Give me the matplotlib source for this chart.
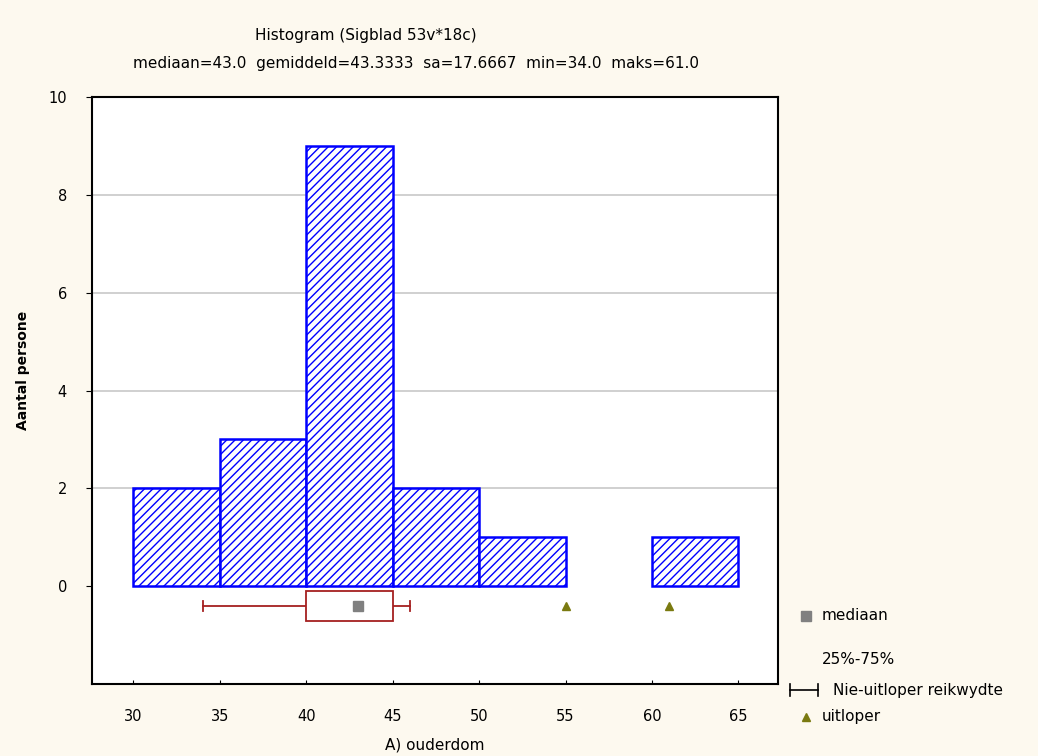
import numpy as np
import matplotlib.pyplot as plt
from matplotlib.lines import Line2D

# histogram bins and counts
bin_edges = [30, 35, 40, 45, 50, 55, 60, 65]
counts = [2, 3, 9, 2, 1, 0, 1]

# box plot summary
q1, q3 = 40.0, 45.0
median = 43.0
whisker_lo, whisker_hi = 34.0, 46.0
outliers = [55.0, 61.0]

x_ticks = [30, 35, 40, 45, 50, 55, 60, 65]
y_ticks = [0, 2, 4, 6, 8, 10]

plt.rcParams['hatch.linewidth'] = 1.0
plt.rcParams['hatch.color'] = '#0000ff'

red = '#a52020'
olive = '#7a7a10'

fig = plt.figure(figsize=(10.38, 7.56), dpi=100)
fig.patch.set_facecolor('#fdf9ef')
ax = fig.add_axes([0.0886, 0.0952, 0.661, 0.7765])
ax.set_facecolor('white')

# gridlines
for y in y_ticks[1:-1]:
    ax.axhline(y, color='#c8c8c8', lw=1.2, zorder=0)

# bars
lefts = bin_edges[:-1]
widths = np.diff(bin_edges)
for left, w, c in zip(lefts, widths, counts):
    if c > 0:
        ax.bar(left, c, width=w, align='edge', facecolor='white',
               edgecolor='#0000ff', hatch='////', lw=1.8, zorder=2)

# box plot below the histogram
yb = -0.4
ax.plot([whisker_lo, q1], [yb, yb], color=red, lw=1.3, zorder=3)
ax.plot([q3, whisker_hi], [yb, yb], color=red, lw=1.3, zorder=3)
for xw in [whisker_lo, whisker_hi]:
    ax.plot([xw, xw], [yb - 0.1, yb + 0.1], color=red, lw=1.3, zorder=3)
ax.add_patch(plt.Rectangle((q1, -0.72), q3 - q1, 0.62, facecolor='white',
                           edgecolor=red, lw=1.3, zorder=3))
ax.plot([median], [yb], marker='s', ms=7, color='#808080', ls='none', zorder=4)
ax.plot(outliers, [yb] * len(outliers), marker='^', ms=6, color=olive,
        ls='none', zorder=4)

ax.set_xlim(27.6, 67.3)
ax.set_ylim(-2, 10)
ax.set_xticks(x_ticks)
ax.set_yticks(y_ticks)
ax.tick_params(axis='x', direction='in', length=3, pad=18, labelsize=10.5)
ax.tick_params(axis='y', direction='out', length=4, labelsize=10.5, pad=14)
for s in ax.spines.values():
    s.set_linewidth(1.5)

ax.set_xlabel('A) ouderdom', fontsize=11, labelpad=10)
ax.set_ylabel('Aantal persone', fontsize=10, fontweight='bold')
ax.yaxis.set_label_coords(-0.09, 0.535)

fig.text(0.352, 0.953, 'Histogram (Sigblad 53v*18c)', ha='center', va='center', fontsize=11)
fig.text(0.401, 0.916, 'mediaan=43.0  gemiddeld=43.3333  sa=17.6667  min=34.0  maks=61.0',
         ha='center', va='center', fontsize=11)

# legend outside on the right, placed by hand
W, H = 1038.0, 756.0
def fx(px):
    return px / W
def fy(py):
    return 1 - py / H

fig.add_artist(Line2D([fx(806)], [fy(616)], marker='s', ms=7, color='#808080', ls='none'))
fig.text(fx(822), fy(616), 'mediaan', va='center', fontsize=11)
fig.text(fx(822), fy(659), '25%-75%', va='center', fontsize=11)
fig.add_artist(Line2D([fx(790), fx(818)], [fy(690), fy(690)], color='black', lw=1.2))
for px in [790, 818]:
    fig.add_artist(Line2D([fx(px), fx(px)], [fy(684), fy(696)], color='black', lw=1.2))
fig.text(fx(833), fy(690), 'Nie-uitloper reikwydte', va='center', fontsize=11)
fig.add_artist(Line2D([fx(806)], [fy(717)], marker='^', ms=6, color=olive, ls='none'))
fig.text(fx(822), fy(717), 'uitloper', va='center', fontsize=11)

fig.savefig('out.png', dpi=100, facecolor=fig.get_facecolor())
